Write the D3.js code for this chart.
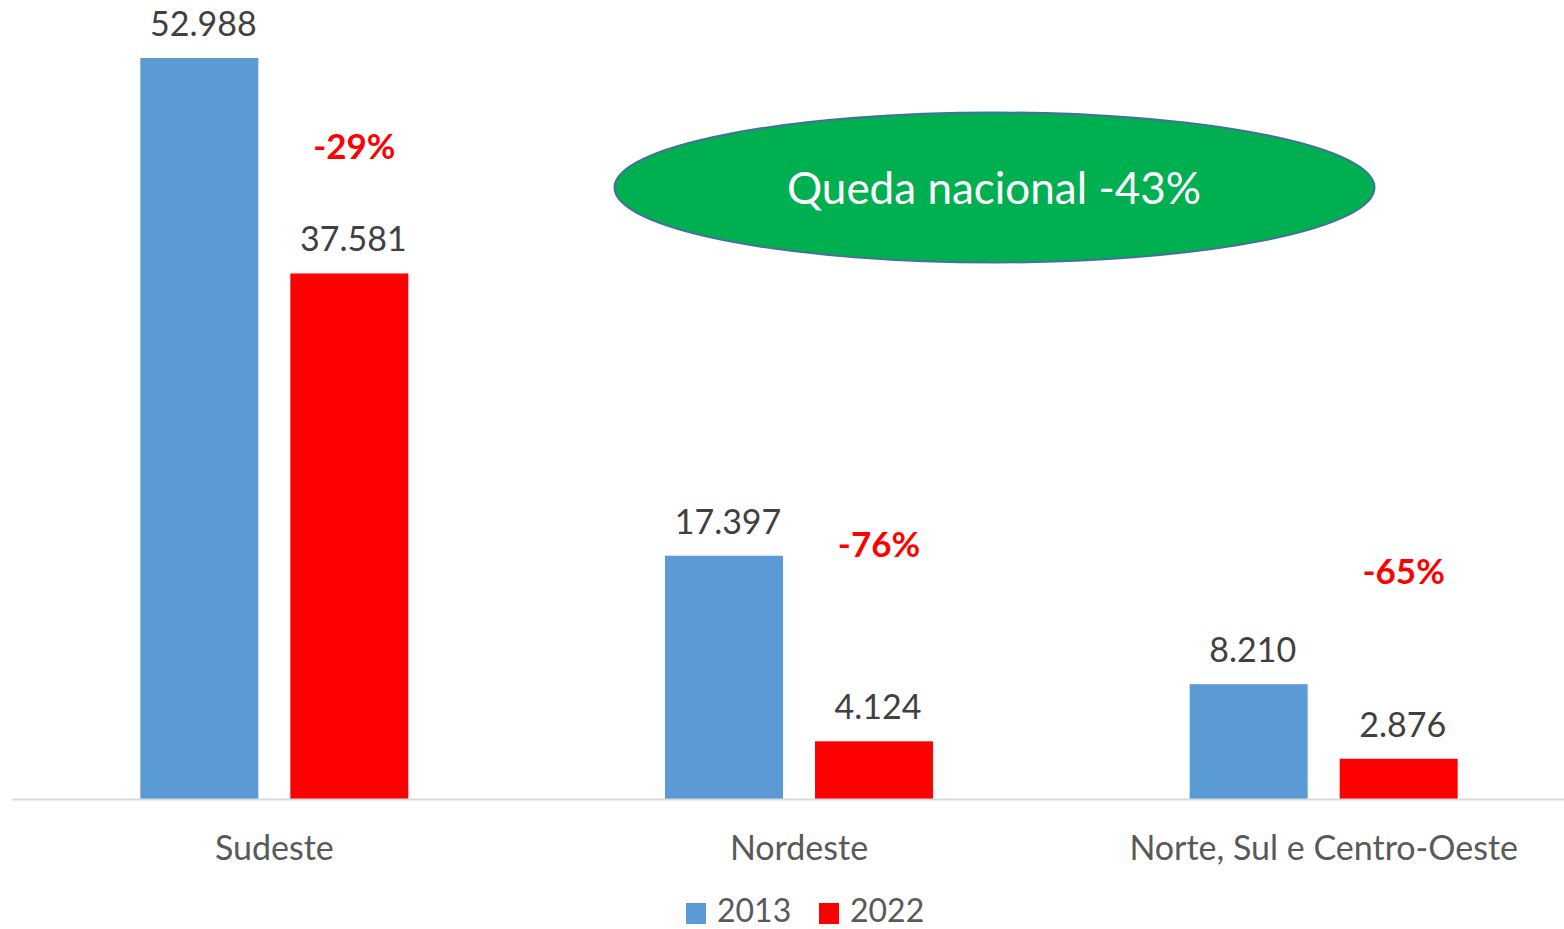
<!DOCTYPE html>
<html><head><meta charset="utf-8">
<script src="https://cdn.jsdelivr.net/npm/d3@7"></script>
<style>body{margin:0;background:#fff}svg{display:block}text{font-family:Lato,"Open Sans",sans-serif}</style>
</head><body>
<script>
const categories = ["Sudeste", "Nordeste", "Norte, Sul e Centro-Oeste"];
const series = ["2013", "2022"];
const values2013 = [52988, 17397, 8210];
const values2022 = [37581, 4124, 2876];
const changeLabels = ["-29%", "-76%", "-65%"];
const nationalLabel = "Queda nacional -43%";

const W = 1564, H = 929;
const colors = {"2013": "#5B9BD5", "2022": "#FF0000"};
const svg = d3.select("body").append("svg").attr("width", W).attr("height", H);

const x0 = d3.scaleBand().domain(categories).range([12, 1586]).paddingInner(0).paddingOuter(0);
const groupW = 268;
const x1 = d3.scaleBand().domain(series).range([0, groupW]).paddingInner(32/150).paddingOuter(0);
const y = d3.scaleLinear().domain([0, 52988]).range([799, 58]);

const fmt = v => d3.format(",")(v).replace(/,/g, ".");

const rows = categories.map((c, i) => ({cat: c, vals: [{s: "2013", v: values2013[i]}, {s: "2022", v: values2022[i]}], change: changeLabels[i]}));

const g = svg.selectAll("g.cat").data(rows).enter().append("g")
  .attr("transform", d => `translate(${x0(d.cat) + (x0.bandwidth() - groupW) / 2},0)`);

g.selectAll("rect").data(d => d.vals).enter().append("rect")
  .attr("x", d => x1(d.s)).attr("width", x1.bandwidth())
  .attr("y", d => y(d.v)).attr("height", d => y(0) - y(d.v))
  .attr("fill", d => colors[d.s]);

g.selectAll("text.val").data(d => d.vals).enter().append("text")
  .attr("class", "val")
  .attr("x", d => x1(d.s) + x1.bandwidth() / 2 + 4)
  .attr("y", d => y(d.v) - 22)
  .attr("text-anchor", "middle").attr("font-size", 34).attr("fill", "#404040")
  .text(d => fmt(d.v));

// percent change annotations (free-floating text boxes)
const annY = [147, 545, 572];
g.append("text")
  .attr("x", x1("2022") + x1.bandwidth() / 2 + 5)
  .attr("y", (d, i) => annY[i] + 12)
  .attr("text-anchor", "middle").attr("font-size", 35).attr("font-weight", "bold").attr("fill", "#FF0000")
  .text(d => d.change);

// axis
const xAxis = d3.axisBottom(x0).tickSize(0).tickPadding(0);
const ax = svg.append("g").attr("transform", `translate(0,${y(0)})`).call(xAxis);
ax.select(".domain").attr("stroke", "#D9D9D9").attr("stroke-width", 2);
ax.selectAll(".tick text").attr("font-size", 34).attr("fill", "#595959").attr("dy", 0).attr("y", 61)
  .attr("font-family", "Lato, 'Open Sans', sans-serif");

// national ellipse
svg.append("ellipse").attr("cx", 994.5).attr("cy", 187.5).attr("rx", 380).attr("ry", 75)
  .attr("fill", "#00B050").attr("stroke", "#41719C").attr("stroke-width", 2);
svg.append("text").attr("x", 994).attr("y", 204).attr("text-anchor", "middle")
  .attr("font-size", 44).attr("fill", "#fff").text(nationalLabel);

// legend
const leg = svg.append("g");
const legX = [686, 819];
series.forEach((s, i) => {
  leg.append("rect").attr("x", legX[i]).attr("y", 903).attr("width", 20).attr("height", 21).attr("fill", colors[s]);
  leg.append("text").attr("x", legX[i] + 31).attr("y", 922).attr("font-size", 32).attr("fill", "#595959").text(s);
});
</script>
</body></html>
